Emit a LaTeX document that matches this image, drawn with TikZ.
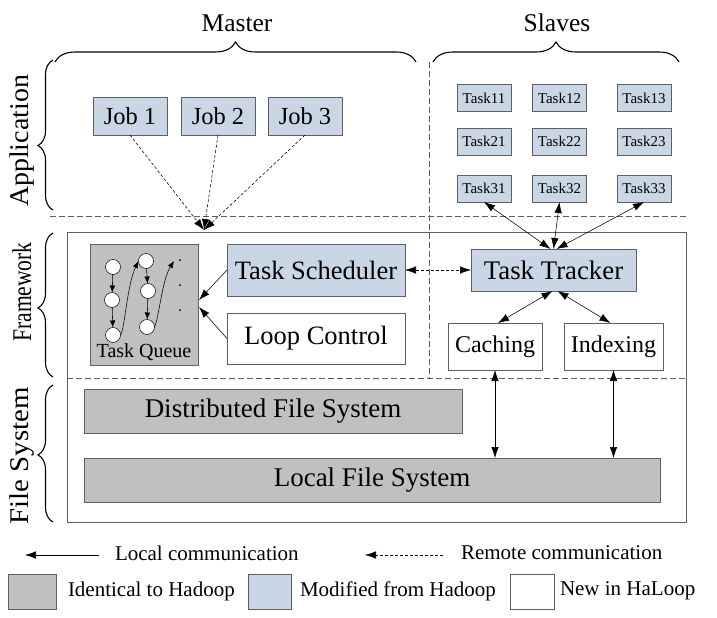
\documentclass[tikz,border=0pt]{standalone}
\usepackage{fontspec}
\setmainfont{Liberation Serif}
\usepackage{graphicx}
\usetikzlibrary{arrows.meta,decorations.pathreplacing}
\definecolor{bluefill}{RGB}{200,214,229}
\definecolor{grayfill}{RGB}{192,192,192}
\definecolor{edgegray}{RGB}{95,95,95}
\newcommand{\myfs}[1]{\fontsize{#1}{#1}\selectfont}
\begin{document}
\begin{tikzpicture}[x=1pt,y=-1pt,
  every node/.style={inner sep=0pt, outer sep=0pt},
  boxbase/.style={draw=edgegray, line width=0.7pt, anchor=center, text=black},
  bluebox/.style={boxbase, fill=bluefill},
  graybox/.style={boxbase, fill=grayfill},
  whitebox/.style={boxbase, fill=white},
  onehead/.style={-{Latex[length=11pt,width=7.5pt]}},
  twohead/.style={{Latex[length=11pt,width=7.5pt]}-{Latex[length=11pt,width=7.5pt]}},
  smallhead/.style={-{Latex[length=7pt,width=5.5pt]}},
  conn/.style={line width=0.55pt, draw=black},
  remote/.style={dash pattern=on 3pt off 2pt},
  sepline/.style={draw=edgegray, line width=0.7pt, dash pattern=on 6pt off 3pt},
  lbrace/.style={decorate, decoration={brace, amplitude=15pt, aspect=#1}, line width=1.1pt},
  tbrace/.style={decorate, decoration={brace, amplitude=20pt}, line width=1.1pt},
  qcirc/.style={circle, draw=black, fill=white, line width=0.5pt, minimum size=15pt},
  qdot/.style={circle, fill=black, minimum size=2pt},
  sidelabel/.style={rotate=90, font=\myfs{27}},
  toplabel/.style={font=\myfs{25.5}, anchor=base},
  tasksmall/.style={bluebox, minimum width=54pt, minimum height=27pt, font=\myfs{15}},
  jobbox/.style={bluebox, minimum width=74pt, minimum height=38pt, font=\myfs{24.5}},
  legtext/.style={anchor=west, font=\myfs{21}}
]
\useasboundingbox (0,0) rectangle (717,618);

% top labels and braces
\node[toplabel] (master) at (237,32) {Master};
\node[toplabel] (slaves) at (557,32) {Slaves};
\draw[tbrace] (55,62) -- (416,62);
\draw[tbrace] (433,62) -- (679,62);

% side labels and braces
\node[sidelabel] (lapp) at (22,141) {\scalebox{1.035}[1]{Application}};
\node[sidelabel] (lfw) at (22,292) {\scalebox{0.80}[1]{Framework}};
\node[sidelabel] (lfs) at (22,456) {\scalebox{1.07}[1]{File System}};
\draw[lbrace=0.43] (53,210) -- (53,60);
\draw[lbrace=0.48] (53,377) -- (53,233);
\draw[lbrace=0.49] (53,522) -- (53,385);

% framework frame and separators
\draw[draw=edgegray, line width=0.7pt] (67,232) rectangle (686,522);
\draw[sepline] (50,216) -- (686,216);
\draw[sepline] (67,378) -- (686,378);
\draw[sepline] (429,62) -- (429,378);

% application jobs
\node[jobbox] (job1) at (130,116) {Job 1};
\node[jobbox] (job2) at (218,116) {Job 2};
\node[jobbox] (job3) at (305,116) {Job 3};

% slave tasks
\node[tasksmall] (t11) at (484,98) {Task11};
\node[tasksmall] (t12) at (559.5,98) {Task12};
\node[tasksmall] (t13) at (644,98) {Task13};
\node[tasksmall] (t21) at (484,141.5) {Task21};
\node[tasksmall] (t22) at (559.5,141.5) {Task22};
\node[tasksmall] (t23) at (644,141.5) {Task23};
\node[tasksmall] (t31) at (484,188.5) {Task31};
\node[tasksmall] (t32) at (559.5,188.5) {Task32};
\node[tasksmall] (t33) at (644,188.5) {Task33};

% framework boxes
\node[graybox, minimum width=108pt, minimum height=121pt] (tq) at (144,304.5) {};
\node[font=\myfs{20}] (tqlabel) at (144,352) {Task Queue};
\node[bluebox, minimum width=178pt, minimum height=52pt, font=\myfs{26.5}] (ts) at (316,270) {Task Scheduler};
\node[whitebox, minimum width=178pt, minimum height=51pt, font=\myfs{26.5}] (lc) at (316,338.5) {Loop Control};
\node[bluebox, minimum width=165pt, minimum height=42pt, font=\myfs{26.8}] (tt) at (553.5,270) {Task Tracker};
\node[whitebox, minimum width=94pt, minimum height=47pt, font=\myfs{24}] (cach) at (495,346.5) {Caching};
\node[whitebox, minimum width=99pt, minimum height=47pt, font=\myfs{24}] (idx) at (613.5,346.5) {Indexing};

% file system boxes
\node[graybox, minimum width=378pt, minimum height=44pt, font=\myfs{27}] (dfs) at (273,411) {Distributed File System};
\node[graybox, minimum width=576pt, minimum height=44pt, font=\myfs{27}] (lfsbox) at (372,480) {Local File System};

% task queue contents
\node[qcirc] (q11) at (113,267) {};
\node[qcirc] (q12) at (112,300) {};
\node[qcirc] (q13) at (113,335) {};
\node[qcirc] (q21) at (146,261) {};
\node[qcirc] (q22) at (148,291) {};
\node[qcirc] (q23) at (147,327) {};
\node[qdot] (d1) at (180,260) {};
\node[qdot] (d2) at (180,285) {};
\node[qdot] (d3) at (180,310) {};
\draw[conn, smallhead] (q11) -- (q12);
\draw[conn, smallhead] (q12) -- (q13);
\draw[conn, smallhead] (q21) -- (q22);
\draw[conn, smallhead] (q22) -- (q23);
\draw[conn, smallhead] (q13.east) .. controls (125,328) and (127,285) .. (q21.west);
\draw[conn, smallhead] (q23.east) .. controls (159,318) and (162,280) .. ([xshift=-6pt,yshift=-1pt]d1.center);

% connectors
\coordinate (jt) at (204,230);
\draw[conn, remote, onehead] (job1.south) -- (jt);
\draw[conn, remote, onehead] (job2.south) -- (jt);
\draw[conn, remote, onehead] (job3.south) -- (jt);

\coordinate (tqa) at (199,300);
\coordinate (tqb) at (199,307);
\draw[conn, onehead] (ts.west) -- (tqa);
\draw[conn, onehead] (lc.west) -- (tqb);

\draw[conn, remote, twohead] (ts.east) -- (tt.west);

\draw[conn, twohead] (t31.south) -- ([xshift=-3pt]tt.north);
\draw[conn, twohead] (t32.south) -- (tt.north);
\draw[conn, twohead] (t33.south) -- ([xshift=3pt]tt.north);

\draw[conn, twohead] ([xshift=-1pt]tt.south) -- ([xshift=3pt]cach.north);
\draw[conn, twohead] ([xshift=4pt]tt.south) -- ([xshift=-3pt]idx.north);

\draw[conn, twohead] (cach.south) -- (cach.south |- lfsbox.north);
\draw[conn, twohead] (idx.south) -- (idx.south |- lfsbox.north);

% legend
\coordinate (la) at (99,555);
\coordinate (lb) at (25,555);
\draw[conn, onehead] (la) -- (lb);
\node[legtext] (ltext) at (115,553) {Local communication};
\coordinate (ra) at (443,555);
\coordinate (rb) at (365,555);
\draw[conn, remote, onehead] (ra) -- (rb);
\node[legtext] (rtext) at (461,553) {Remote communication};

\node[graybox, minimum width=48pt, minimum height=35pt] (lg1) at (32,591.5) {};
\node[legtext] (lg1t) at (68,591) {Identical to Hadoop};
\node[bluebox, minimum width=43pt, minimum height=35pt] (lg2) at (269.5,591.5) {};
\node[legtext] (lg2t) at (300,591) {Modified from Hadoop};
\node[whitebox, minimum width=44pt, minimum height=35pt] (lg3) at (532,591.5) {};
\node[legtext] (lg3t) at (560,591) {New in HaLoop};
\end{tikzpicture}
\end{document}
